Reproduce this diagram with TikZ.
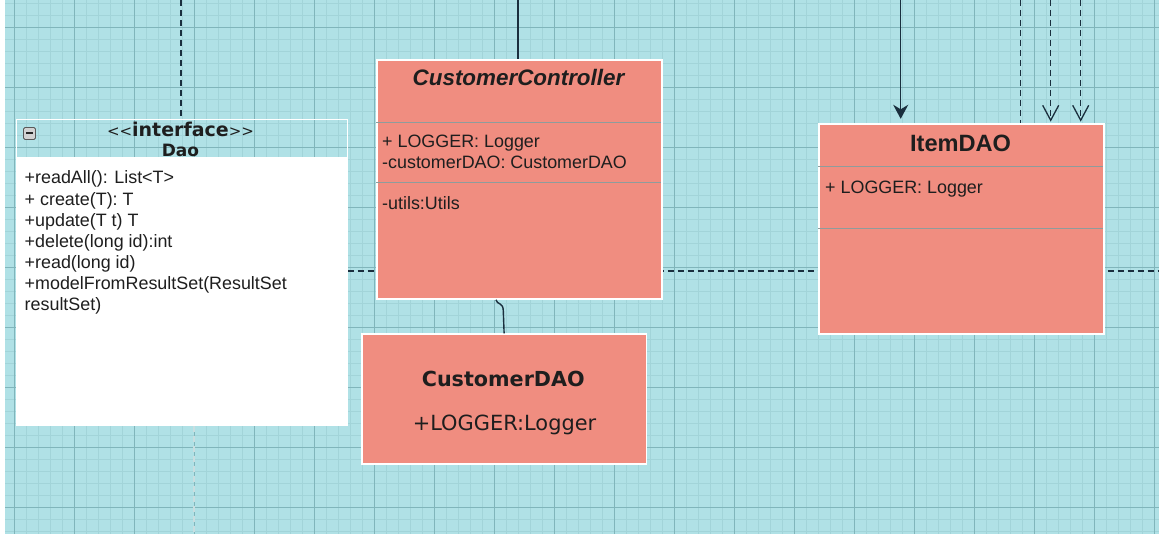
\documentclass[tikz,border=0pt]{standalone}
\usepackage{fontspec}
\setmainfont{Liberation Sans}
\newfontfamily\djv{DejaVu Sans}
\usetikzlibrary{arrows.meta}
\pgfdeclarelayer{bg}
\pgfsetlayers{bg,main}
\definecolor{bgc}{HTML}{B0E1E6}
\definecolor{minorc}{HTML}{A2D4D9}
\definecolor{majorc}{HTML}{80B5BB}
\definecolor{salmon}{HTML}{F08D80}
\definecolor{ink}{HTML}{1A2F3E}
\definecolor{sepc}{HTML}{8E9C9C}
\definecolor{txt}{HTML}{1E1E1E}
\definecolor{faintc}{HTML}{C9DEE0}
\tikzset{
  umlbox/.style={draw=white, line width=1.5pt, fill=salmon, inner sep=0pt, anchor=north west},
  sepline/.style={draw=sepc, line width=0.9pt},
  dashconn/.style={draw=ink, line width=1.3pt, dash pattern=on 6pt off 4pt},
  solidconn/.style={draw=ink, line width=1.5pt},
  attr/.style={anchor=base west, inner sep=0pt, text=txt, font=\fontsize{17.9}{21}\selectfont},
  ctitle/.style={anchor=base, inner sep=0pt, text=txt},
}
\begin{document}
\begin{tikzpicture}[x=1pt,y=-1pt]
\useasboundingbox (0,0) rectangle (1159,534);

% ---------- Dao interface ----------
\fill[white] (15.5,157.3) rectangle (346.5,424.5);
\node[draw=white, line width=1.2pt, inner sep=0pt, anchor=north west,
      minimum width=331pt, minimum height=305.5pt] (dao) at (15.5,119) {};
\node[draw=gray!70!black, line width=0.9pt, fill=gray!35, rounded corners=1.5pt,
      minimum size=12pt, inner sep=0pt] (collapse) at (29.5,133.5) {};
\draw[black!85, line width=2pt] (26,133.5) -- (33,133.5);
\node[ctitle] (daostereo) at (180.5,136.5)
  {\djv\fontsize{15}{18}\selectfont <<\textbf{\fontsize{19}{22}\selectfont interface}>>};
\node[ctitle] (daoname) at (180.5,156.5) {\djv\bfseries\fontsize{17}{20}\selectfont Dao};
\node[attr] (daom0) at (24.5,184) {+readAll(): List<T>};
\node[attr] (daom1) at (24.5,205.1) {+ create(T): T};
\node[attr] (daom2) at (24.5,226.2) {+update(T t) T};
\node[attr] (daom3) at (24.5,247.3) {+delete(long id):int};
\node[attr] (daom4) at (24.5,268.4) {+read(long id)};
\node[attr] (daom5) at (24.5,289.5) {+modelFromResultSet(ResultSet};
\node[attr] (daom6) at (24.5,310.6) {resultSet)};

% ---------- CustomerController ----------
\node[umlbox, minimum width=285pt, minimum height=239pt] (cc) at (376,59.3) {};
\draw[sepline] (376,122.7) -- (661,122.7);
\draw[sepline] (376,182.7) -- (661,182.7);
\node[ctitle] (cctitle) at (518.5,85.7)
  {\fontsize{22.4}{26}\selectfont\bfseries\itshape CustomerController};
\node[attr] (ccattr1) at (382,148) {+ LOGGER: Logger};
\node[attr] (ccattr2) at (382,169) {-customerDAO: CustomerDAO};
\node[attr] (ccattr3) at (382,210) {-utils:Utils};

% ---------- CustomerDAO ----------
\node[umlbox, minimum width=284.7pt, minimum height=130pt] (cdao) at (361,333.3) {};
\node[ctitle] (cdaotitle) at (503.3,386.7) {\djv\bfseries\fontsize{20.7}{24}\selectfont CustomerDAO};
\node[ctitle] (cdaoattr) at (504.5,430) {\djv\fontsize{20.9}{24}\selectfont +LOGGER:Logger};

% ---------- ItemDAO ----------
\node[umlbox, minimum width=284.7pt, minimum height=210pt] (item) at (818.3,123.3) {};
\draw[sepline] (818.3,166.7) -- (1103,166.7);
\draw[sepline] (818.3,228.3) -- (1103,228.3);
\node[ctitle] (itemtitle) at (960.6,151.7) {\fontsize{23.6}{27}\selectfont\bfseries ItemDAO};
\node[attr] (itemattr) at (825,193.3) {+ LOGGER: Logger};

% ---------- connectors entering from the top ----------
\coordinate (t1) at (181,0);
\coordinate (t2) at (518,0);
\coordinate (t3) at (900.7,0);
\coordinate (t4) at (1020.7,0);
\coordinate (t5) at (1050.7,0);
\coordinate (t6) at (1080.7,0);
\draw[dashconn] (t1) -- (t1 |- dao.north);
\draw[solidconn] (t2) -- (t2 |- cc.north);
\draw[solidconn, -{Stealth[length=14pt,width=15pt,inset=4.5pt]}, shorten >=4.5pt] (t3) -- (t3 |- item.north);
\draw[dashconn] (t4) -- (t4 |- item.north);
\draw[dashconn, -{Straight Barb[length=15pt,width=16pt,line width=1.3pt]}, shorten >=1.6pt] (t5) -- (t5 |- item.north);
\draw[dashconn, -{Straight Barb[length=15pt,width=16pt,line width=1.3pt]}, shorten >=1.6pt] (t6) -- (t6 |- item.north);

% ---------- CustomerController to CustomerDAO ----------
\coordinate (ccfoot) at ([xshift=-23.3pt]cc.south);
\coordinate (ccbend) at (503.3,311);
\draw[solidconn, line width=1.4pt] (ccfoot) .. controls (497,305) and (503.3,302) .. (ccbend) -- (cdao.north);

% ---------- background: grid and lines behind boxes ----------
\begin{pgfonlayer}{bg}
\fill[white] (0,0) rectangle (1159,534);
\fill[bgc] (5,0) rectangle (1159,534);
\foreach \x in {14,26,...,1154} \draw[minorc, line width=0.7pt] (\x,0) -- (\x,534);
\foreach \y in {3,15,...,531} \draw[minorc, line width=0.7pt] (5,\y) -- (1159,\y);
\foreach \x in {14,74,...,1154} \draw[majorc, line width=0.9pt] (\x,0) -- (\x,534);
\foreach \y in {27,87,...,507} \draw[majorc, line width=0.9pt] (5,\y) -- (1159,\y);
\coordinate (rend) at (1159,271);
\draw[dashconn] (dao.east |- rend) -- (rend);
\coordinate (fb) at (194,534);
\draw[draw=faintc, line width=1.2pt, dash pattern=on 6pt off 4pt] (fb |- dao.south) -- (fb);
\end{pgfonlayer}
\end{tikzpicture}
\end{document}
